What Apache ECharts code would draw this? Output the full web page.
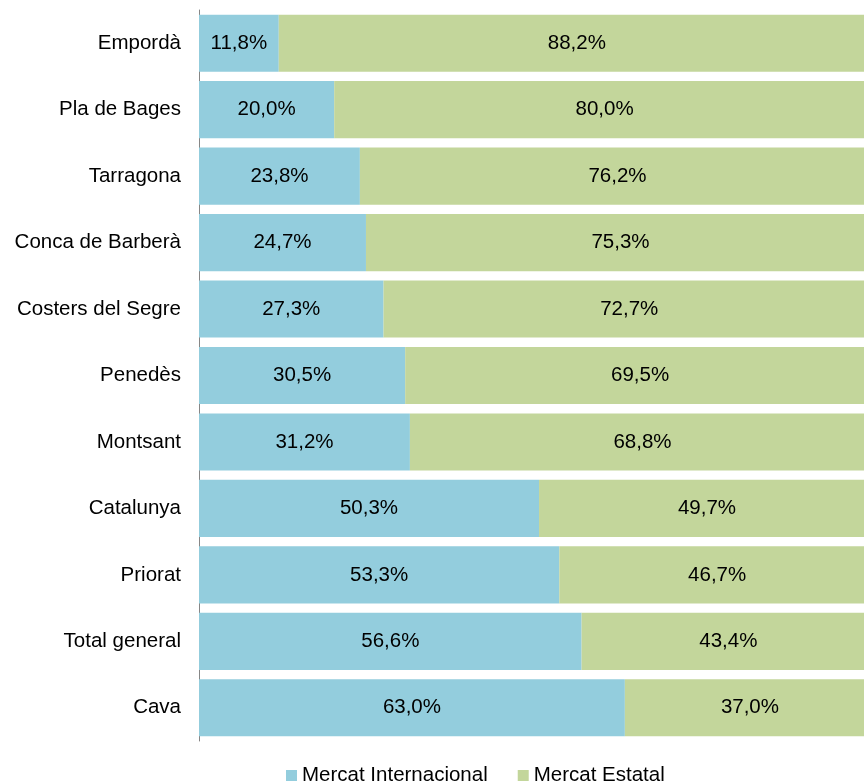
<!DOCTYPE html>
<html>
<head>
<meta charset="utf-8">
<script src="https://cdn.jsdelivr.net/npm/echarts@6/dist/echarts.min.js"></script>
<style>
  html, body { margin: 0; padding: 0; background: #fff; overflow: hidden; }
  #graph { width: 864px; height: 783px; }
</style>
</head>
<body>
<div id="graph"></div>
<script>
const categories = ['Empordà', 'Pla de Bages', 'Tarragona', 'Conca de Barberà', 'Costers del Segre',
  'Penedès', 'Montsant', 'Catalunya', 'Priorat', 'Total general', 'Cava']
const internacional = [11.8, 20.0, 23.8, 24.7, 27.3, 30.5, 31.2, 50.3, 53.3, 56.6, 63.0]
const estatal = [88.2, 80.0, 76.2, 75.3, 72.7, 69.5, 68.8, 49.7, 46.7, 43.4, 37.0]

const dom = document.getElementById('graph')
const chart = echarts.init(dom)
const font = 'Liberation Sans, Arial, sans-serif'
const fs = 20.5

function fmt (p) {
  return p.value.toFixed(1).replace('.', ',') + '%'
}

// the plot runs past the right edge of the picture (cropped)
const option = {
  animation: false,
  textStyle: { fontFamily: font },
  grid: {
    left: 199, width: 676, top: 10, bottom: 42,
    containLabel: false, outerBoundsMode: 'none'
  },
  legend: {
    top: 760,
    left: 281,
    itemWidth: 11,
    itemHeight: 11,
    itemGap: 30,
    icon: 'rect',
    textStyle: { fontSize: fs, color: '#000', fontFamily: font },
    data: ['Mercat Internacional', 'Mercat Estatal']
  },
  xAxis: {
    type: 'value',
    min: 0,
    max: 100,
    show: false
  },
  yAxis: {
    type: 'category',
    inverse: true,
    data: categories,
    axisLine: { show: true, lineStyle: { color: '#868686', width: 1 } },
    axisTick: { show: false },
    axisLabel: { fontSize: fs, color: '#000', fontFamily: font, margin: 18 }
  },
  series: [
    {
      name: 'Mercat Internacional',
      type: 'bar',
      stack: 'total',
      barCategoryGap: '14%',
      itemStyle: { color: '#93CDDD' },
      label: { show: true, position: 'inside', fontSize: fs, color: '#000', fontFamily: font, formatter: fmt },
      data: internacional
    },
    {
      name: 'Mercat Estatal',
      type: 'bar',
      stack: 'total',
      barCategoryGap: '14%',
      itemStyle: { color: '#C3D69B' },
      label: { show: true, position: 'inside', fontSize: fs, color: '#000', fontFamily: font, formatter: fmt },
      data: estatal
    }
  ]
}

chart.setOption(option)
</script>
</body>
</html>
